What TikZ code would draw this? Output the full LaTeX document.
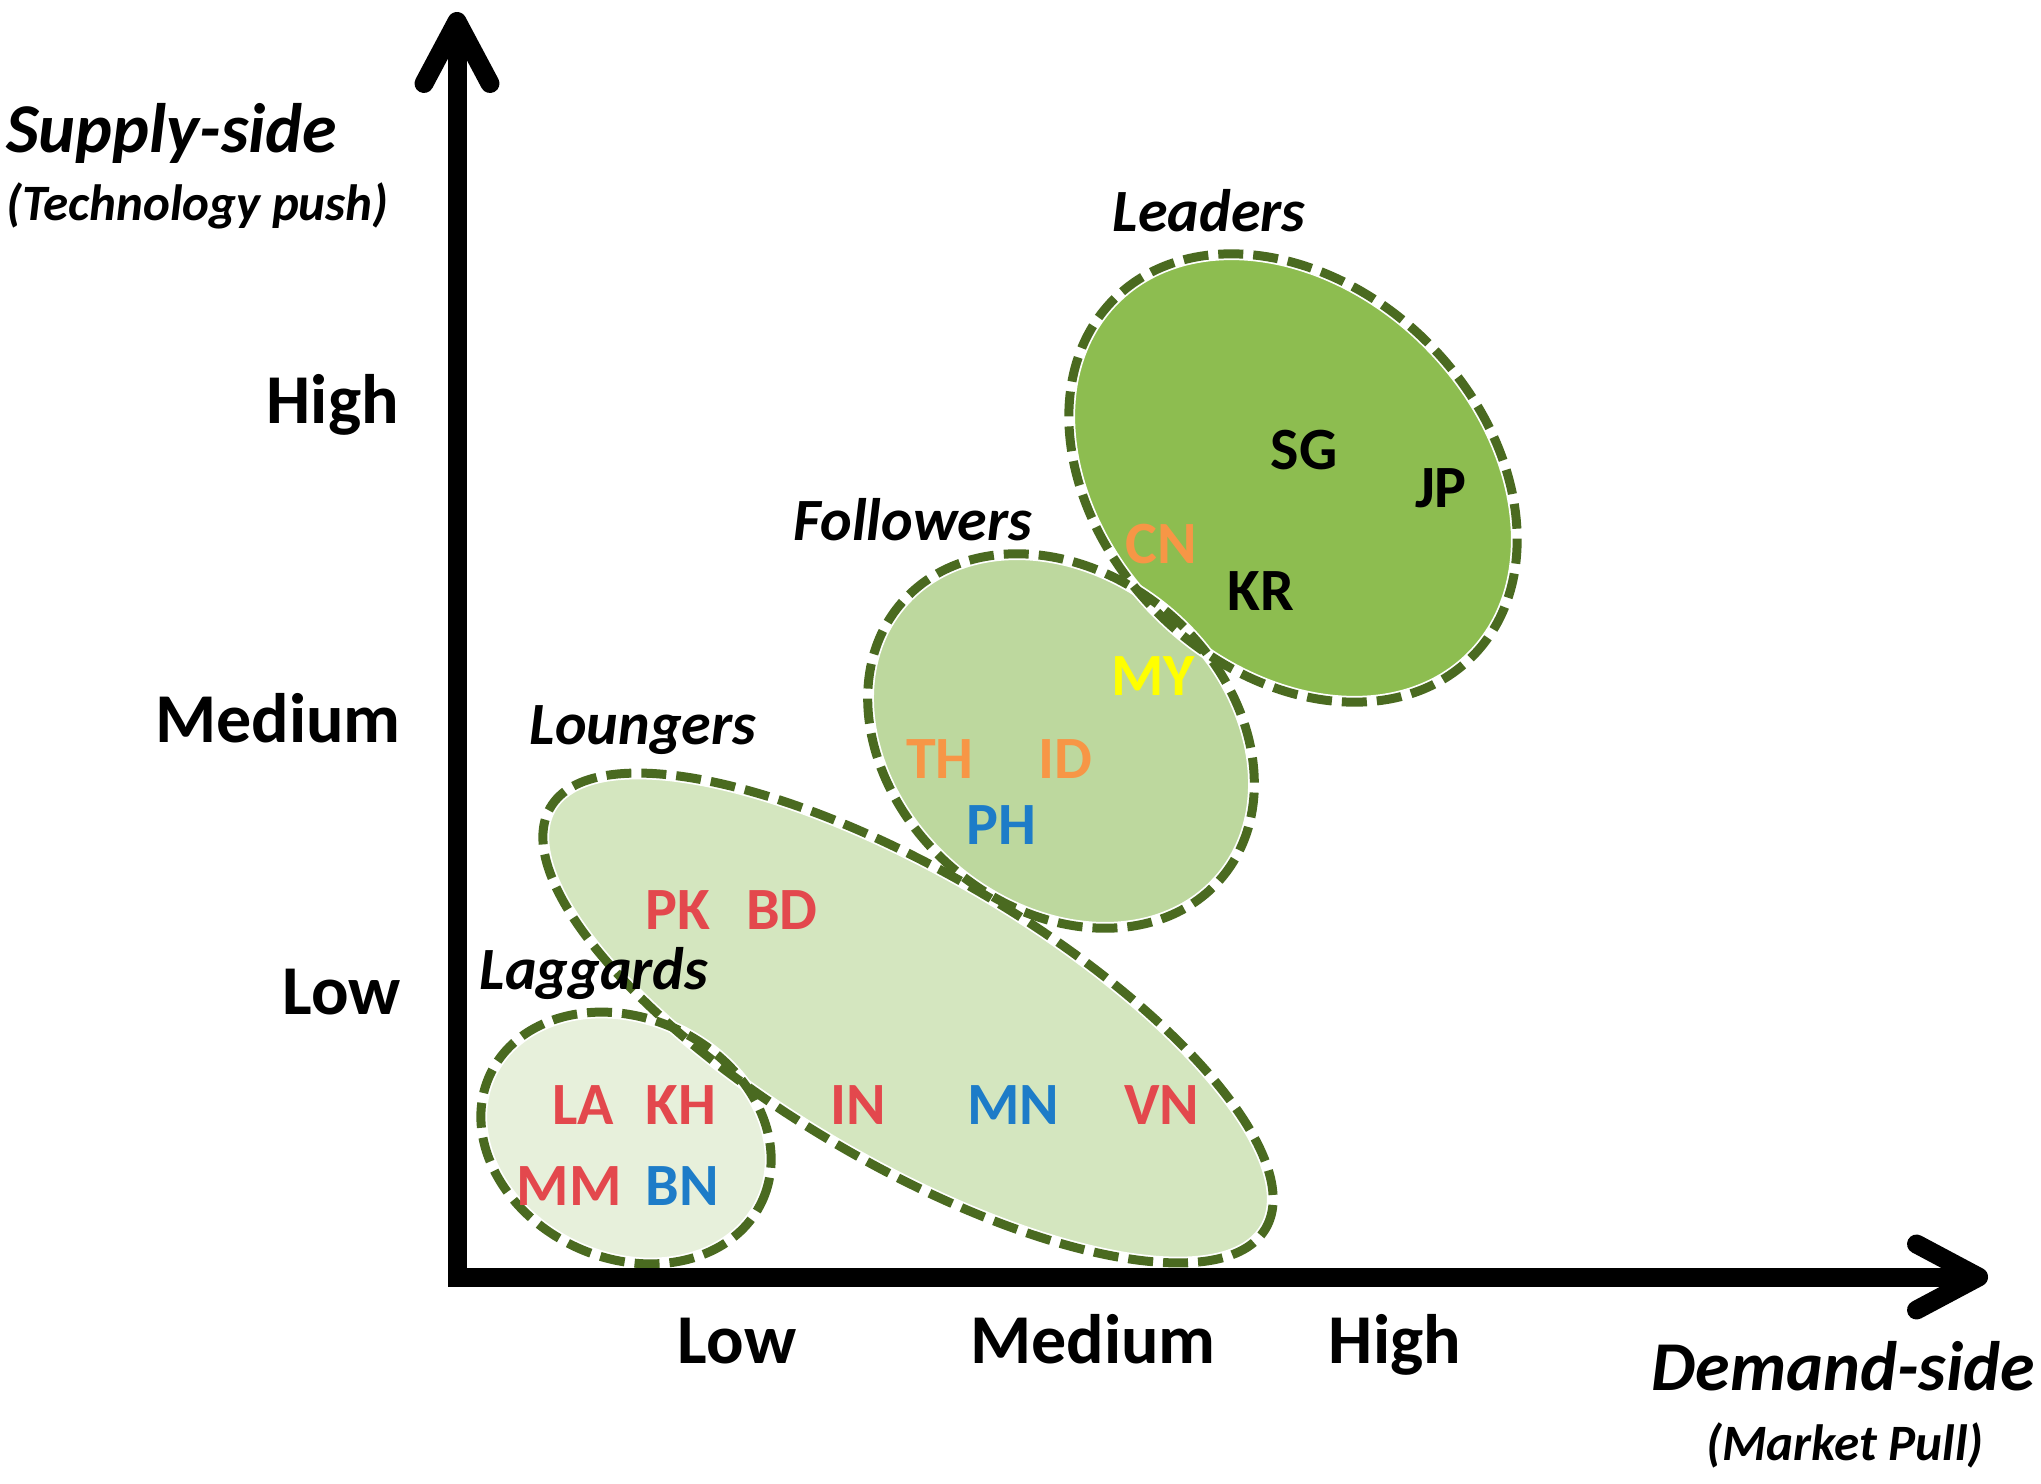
\documentclass[tikz,border=0pt]{standalone}
\usepackage{fontspec}
\setmainfont{Carlito}
\usetikzlibrary{arrows.meta}
\definecolor{dgreen}{HTML}{4A6A20}
\definecolor{fLead}{HTML}{8DBD50}
\definecolor{fFol}{HTML}{BDD89E}
\definecolor{fLou}{HTML}{D4E6BF}
\definecolor{fLag}{HTML}{E7F0DB}
\definecolor{cred}{HTML}{E3484D}
\definecolor{corange}{HTML}{F79646}
\definecolor{cblue}{HTML}{1D7CC8}
\definecolor{cyellow}{HTML}{FFFF00}
\begin{document}
\begin{tikzpicture}[x=1pt,y=-1pt,
  halo/.style={draw=white, line width=12.5pt},
  bord/.style={draw=dgreen, line width=9pt, dash pattern=on 25pt off 10pt},
  ticklab/.style={font=\fontsize{70}{84}\selectfont\bfseries, inner sep=0pt},
  axtitle/.style={font=\fontsize{70}{82}\selectfont\bfseries\itshape, inner sep=0pt},
  axsub/.style={font=\fontsize{51}{60}\selectfont\bfseries\itshape, inner sep=0pt},
  grplab/.style={font=\fontsize{60}{72}\selectfont\bfseries\itshape, inner sep=0pt, anchor=base},
  cc/.style={font=\fontsize{60}{72}\selectfont\bfseries, inner sep=0pt, anchor=base},
  axtip/.style={line width=19pt, line join=miter,
    {Straight Barb[length=62pt,width=66pt,round]}-{Straight Barb[length=62pt,width=66pt,round]}}
]
\useasboundingbox[fill=white] (0,0) rectangle (2041,1483);

% group areas: fills
\path[fill=fLou]  (908,1018) circle[x radius=415pt, y radius=145pt, rotate=-30.5];
\path[fill=fLag]  (626,1138) circle[x radius=150pt, y radius=120pt, rotate=-25];
\path[fill=fFol]  (1061,741) circle[x radius=211pt, y radius=167pt, rotate=-41];
\path[fill=fLead] (1293,478) circle[x radius=253pt, y radius=191pt, rotate=-45];

% group areas: dashed borders
\foreach \s in {halo,bord}{
  \path[\s] (908,1018) circle[x radius=415pt, y radius=145pt, rotate=-30.5];
  \path[\s] (626,1138) circle[x radius=150pt, y radius=120pt, rotate=-25];
  \path[\s] (1061,741) circle[x radius=211pt, y radius=167pt, rotate=-41];
  \path[\s] (1293,478) circle[x radius=253pt, y radius=191pt, rotate=-45];
}

% axes
\coordinate (ytip) at (457,12);
\coordinate (orig) at (457,1277);
\coordinate (xtip) at (1988,1277);
\draw[axtip] (ytip) -- (orig) -- (xtip);

% axis titles
\node[axtitle, anchor=base west] (supply) at (6,152) {Supply-side};
\node[axsub, anchor=base west] (techpush) at (6,220) {(Technology push)};
\node[axtitle, anchor=base east] (demand) at (2035,1390) {Demand-side};
\node[axsub, anchor=base] (mktpull) at (1845,1460) {(Market Pull)};

% tick labels
\node[ticklab, anchor=base east] (yhigh) at (399,423) {High};
\node[ticklab, anchor=base east] (ymed) at (401,742) {Medium};
\node[ticklab, anchor=base east] (ylow) at (401,1014) {Low};
\node[ticklab, anchor=base] (xlow) at (737,1363) {Low};
\node[ticklab, anchor=base] (xmed) at (1093,1363) {Medium};
\node[ticklab, anchor=base] (xhigh) at (1395,1363) {High};

% group labels
\node[grplab] (leaders) at (1209,231) {Leaders};
\node[grplab] (followers) at (913,540) {Followers};
\node[grplab] (loungers) at (643,744) {Loungers};
\node[grplab] (laggards) at (594,989) {Laggards};

% countries
\node[cc] (SG) at (1304,469) {SG};
\node[cc] (JP) at (1441,507) {JP};
\node[cc, text=corange] (CN) at (1161,563) {CN};
\node[cc] (KR) at (1261,610) {KR};
\node[cc, text=cyellow] (MY) at (1153,695) {MY};
\node[cc, text=corange] (TH) at (940,778) {TH};
\node[cc, text=corange] (ID) at (1065,778) {ID};
\node[cc, text=cblue] (PH) at (1001,844) {PH};
\node[cc, text=cred] (PK) at (678,929) {PK};
\node[cc, text=cred] (BD) at (782,929) {BD};
\node[cc, text=cred] (LA) at (583,1124) {LA};
\node[cc, text=cred] (KH) at (681,1124) {KH};
\node[cc, text=cred] (IN) at (858,1124) {IN};
\node[cc, text=cblue] (MN) at (1013,1124) {MN};
\node[cc, text=cred] (VN) at (1162,1124) {VN};
\node[cc, text=cred] (MM) at (569,1205) {MM};
\node[cc, text=cblue] (BN) at (682,1205) {BN};
\end{tikzpicture}
\end{document}
